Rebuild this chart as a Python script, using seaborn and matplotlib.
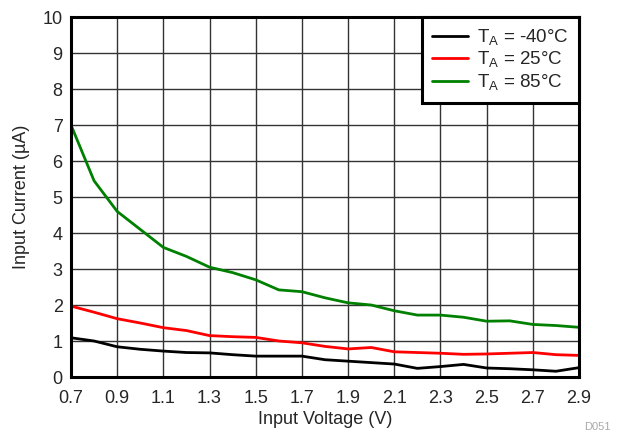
import numpy as np
import pandas as pd
import matplotlib
matplotlib.use("Agg")
import matplotlib.pyplot as plt
import seaborn as sns

# input voltage (V)
voltage = [0.7, 0.8, 0.9, 1.0, 1.1, 1.2, 1.3, 1.4, 1.5, 1.6, 1.7, 1.8,
           1.9, 2.0, 2.1, 2.2, 2.3, 2.4, 2.5, 2.6, 2.7, 2.8, 2.9]

# input current (uA) per ambient temperature
current_m40 = [1.09, 1.00, 0.84, 0.77, 0.72, 0.68, 0.67, 0.62, 0.58, 0.58, 0.58, 0.48,
               0.44, 0.40, 0.36, 0.24, 0.29, 0.35, 0.25, 0.23, 0.20, 0.16, 0.26]
current_25 = [1.97, 1.80, 1.62, 1.50, 1.37, 1.29, 1.15, 1.12, 1.10, 1.00, 0.95, 0.85,
              0.78, 0.82, 0.70, 0.68, 0.66, 0.63, 0.64, 0.66, 0.68, 0.62, 0.60]
current_85 = [7.00, 5.45, 4.60, 4.10, 3.60, 3.35, 3.05, 2.90, 2.70, 2.42, 2.37, 2.20,
              2.06, 2.00, 1.84, 1.72, 1.72, 1.66, 1.55, 1.56, 1.46, 1.43, 1.38]

labels = [r"T$_\mathregular{A}$ = -40°C", r"T$_\mathregular{A}$ = 25°C", r"T$_\mathregular{A}$ = 85°C"]
colors = ["black", "red", "green"]

df = pd.concat([
    pd.DataFrame({"Voltage": voltage, "Current": c, "Temp": lab})
    for c, lab in zip([current_m40, current_25, current_85], labels)
])

sns.set_style("white")
plt.rcParams["font.family"] = ["Liberation Sans", "DejaVu Sans"]
plt.rcParams["mathtext.fontset"] = "custom"
plt.rcParams["mathtext.rm"] = "Liberation Sans"

fig = plt.figure(figsize=(6.26, 4.32), dpi=100)
ax = fig.add_axes([0.1134, 0.1273, 0.8116, 0.8333])

sns.lineplot(data=df, x="Voltage", y="Current", hue="Temp", palette=colors,
             linewidth=2, ax=ax)

ax.set_xlim(0.7, 2.9)
ax.set_ylim(0, 10)
ax.set_xticks(np.arange(0.7, 2.91, 0.2))
ax.set_xticklabels([f"{v:.1f}" for v in np.arange(0.7, 2.91, 0.2)])
ax.set_yticks(range(0, 11))
ax.tick_params(labelsize=13, length=0)
ax.tick_params(axis="x", pad=9)
ax.tick_params(axis="y", pad=6)
ax.grid(True, color="#333333", linewidth=1)
ax.set_axisbelow(True)
for s in ax.spines.values():
    s.set_linewidth(2.2)
    s.set_color("black")

ax.set_xlabel("Input Voltage (V)", fontsize=13, labelpad=3)
ax.set_ylabel("Input Current (µA)", fontsize=13, labelpad=9)

leg = ax.legend(title=None, loc="upper right", borderaxespad=0, fontsize=13.5,
                fancybox=False, framealpha=1, edgecolor="black",
                handlelength=1.9, handletextpad=0.5, labelspacing=0.12,
                borderpad=0.55)
leg.get_frame().set_linewidth(2.2)

fig.text(0.975, 0.0, "D051", fontsize=8, color="#aaaaaa", ha="right", va="bottom")

fig.savefig("out.png", dpi=100)
